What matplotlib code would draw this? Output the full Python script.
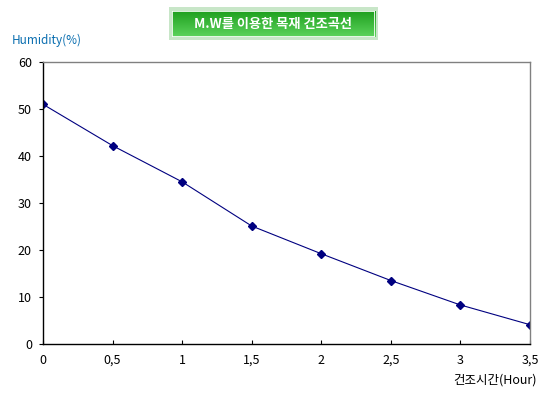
import matplotlib
matplotlib.use('Agg')
import matplotlib.pyplot as plt
import numpy as np
from matplotlib.patches import Rectangle
from matplotlib.colors import LinearSegmentedColormap

plt.rcParams['font.family'] = ['Noto Sans CJK KR', 'DejaVu Sans']

# 건조시간 (hour) vs humidity (%)
hours = [0, 0.5, 1, 1.5, 2, 2.5, 3, 3.5]
humidity = [51.0, 42.2, 34.5, 25.1, 19.2, 13.5, 8.3, 4.1]
xtick_vals = [0, 0.5, 1, 1.5, 2, 2.5, 3, 3.5]
xtick_labels = ['0', '0,5', '1', '1,5', '2', '2,5', '3', '3,5']
ytick_vals = [0, 10, 20, 30, 40, 50, 60]

fig = plt.figure(figsize=(5.5, 3.98), dpi=100)
ax = fig.add_axes([0.0782, 0.1357, 0.8855, 0.7085])

ax.plot(hours, humidity, color='#000080', lw=0.8, marker='D', ms=4,
        mfc='#000080', mec='#000080')

ax.set_xlim(0, 3.5)
ax.set_ylim(0, 60)
ax.set_xticks(xtick_vals)
ax.set_xticklabels(xtick_labels)
ax.set_yticks(ytick_vals)
ax.tick_params(axis='x', direction='in', length=3, labelsize=9, pad=7)
ax.tick_params(axis='y', direction='out', length=3, labelsize=9, pad=5)

ax.spines['left'].set_color('black')
ax.spines['bottom'].set_color('black')
ax.spines['top'].set_color('#808080')
ax.spines['right'].set_color('#808080')
for s in ax.spines.values():
    s.set_linewidth(1)

fig.text(0.022, 0.898, 'Humidity(%)', color='#0a6eb0', fontsize=8.5,
         ha='left', va='center')
fig.text(0.975, 0.045, '건조시간(Hour)', color='black', fontsize=9,
         ha='right', va='center')

# title box: light border, vertical green gradient, white text
bg = Rectangle((169 / 550, 1 - 40 / 398), 209 / 550, 33 / 398,
               transform=fig.transFigure, facecolor='#c8e6c8',
               edgecolor='none', zorder=0)
fig.patches.append(bg)
tax = fig.add_axes([172 / 550, 1 - 37 / 398, 203 / 550, 26 / 398], zorder=3)
grad = LinearSegmentedColormap.from_list('g', ['#1fa01f', '#5cd35c'])
tax.imshow(np.linspace(0, 1, 50).reshape(-1, 1), aspect='auto', cmap=grad,
           extent=[0, 1, 0, 1], origin='upper')
tax.add_patch(Rectangle((0, 0), 1, 1, transform=tax.transAxes,
                        facecolor='none', edgecolor='white', lw=1.2))
tax.text(0.5, 0.5, 'M.W를 이용한 목재 건조곡선', color='white',
         fontsize=9.5, fontweight='bold', ha='center', va='center',
         transform=tax.transAxes)
tax.set_axis_off()

fig.savefig('out.png', dpi=100)
